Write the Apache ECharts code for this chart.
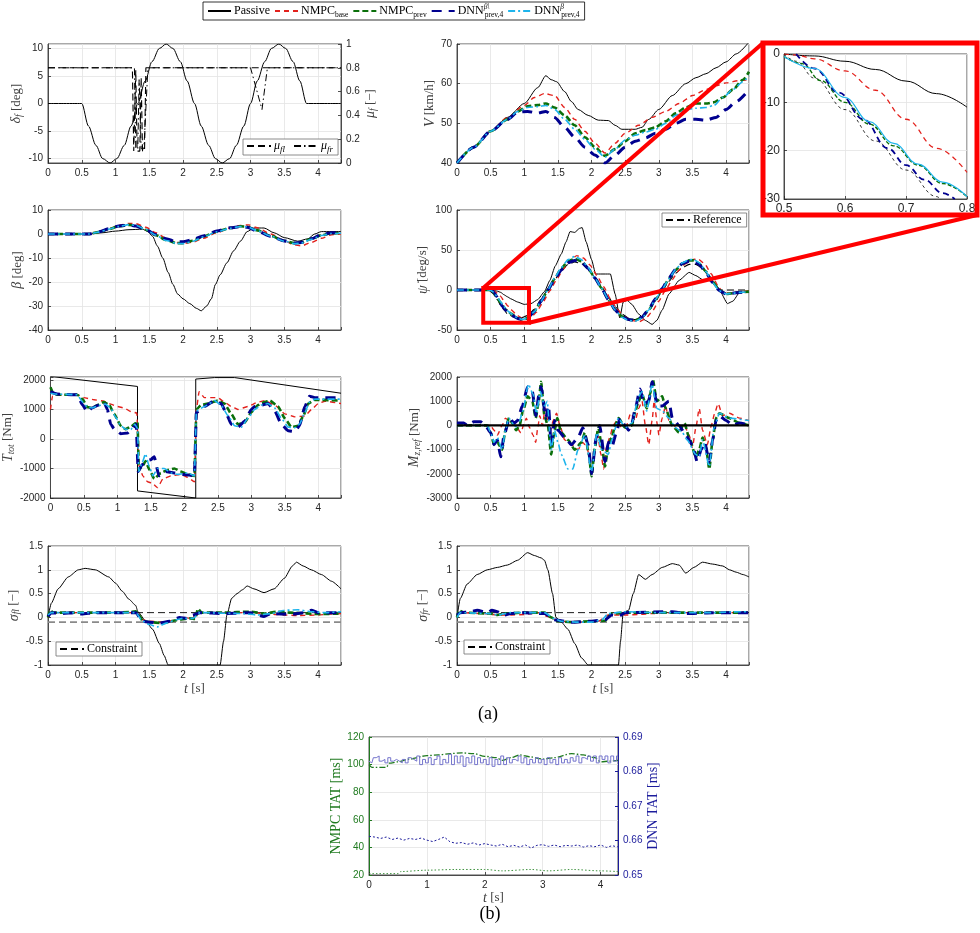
<!DOCTYPE html>
<html>
<head>
<meta charset="utf-8">
<script src="https://cdn.jsdelivr.net/npm/echarts@6/dist/echarts.min.js"></script>
<style>
  html, body { margin: 0; padding: 0; background: #fff; }
  #chart { width: 980px; height: 933px; }
</style>
</head>
<body>
<div id="chart"></div>
<script>
// ---------- data ----------
// steering angle and friction
const deltaF = [[0,0],[0.5,0],[0.6,-4.1],[0.71,-7.6],[0.81,-10],[0.92,-10.8],[1.02,-10],[1.13,-7.6],[1.23,-4.1],[1.33,0],[1.44,4.1],[1.54,7.6],[1.65,10],[1.75,10.8],[1.85,10],[1.96,7.6],[2.06,4.1],[2.17,0],[2.27,-4.1],[2.38,-7.6],[2.48,-10],[2.58,-10.8],[2.69,-10],[2.79,-7.6],[2.9,-4.1],[3.0,0],[3.1,4.1],[3.21,7.6],[3.31,10],[3.42,10.8],[3.52,10],[3.63,7.6],[3.73,4.1],[3.83,0],[4.34,0]];
const muFl = [[0,0.8],[1.25,0.8],[1.27,0.1],[1.3,0.78],[1.32,0.1],[1.36,0.1],[1.38,0.72],[1.4,0.1],[1.43,0.1],[1.45,0.8],[4.34,0.8]];
const muFr = [[0,0.8],[1.28,0.8],[1.3,0.12],[1.33,0.12],[1.35,0.7],[1.38,0.12],[1.42,0.12],[1.48,0.8],[3.0,0.8],[3.17,0.45],[3.25,0.8],[4.34,0.8]];

// speed V [km/h]
const vPassive = [[0,40],[0.25,44],[0.5,48],[0.75,51.5],[1.0,55],[1.2,59],[1.32,62],[1.4,61],[1.48,60.5],[1.6,58],[1.7,55.5],[1.8,53.5],[1.95,52],[2.1,50.8],[2.25,50.7],[2.35,49.5],[2.45,48.5],[2.65,48.5],[2.75,49],[2.85,51],[3.0,53.5],[3.2,57],[3.4,60],[3.55,61.5],[3.7,62.5],[3.85,64],[4.0,65.5],[4.15,67.5],[4.34,70.5]];
const vNmpcBase = [[0,40],[0.25,44],[0.5,48],[0.75,51.5],[1.0,54.5],[1.15,56.5],[1.3,57.5],[1.45,57],[1.6,54],[1.75,51],[1.9,48],[2.05,45],[2.2,42.5],[2.35,45],[2.5,47.5],[2.7,49.5],[2.9,51.5],[3.1,53],[3.3,55],[3.5,57],[3.7,58.5],[3.85,59.5],[4.0,60.2],[4.2,60.8],[4.34,61]];
const vNmpcPrev = [[0,40],[0.25,44],[0.5,48],[0.75,51],[0.9,53],[1.05,54.3],[1.2,54.6],[1.32,55],[1.45,54],[1.6,52],[1.75,49.5],[1.9,46.5],[2.05,44],[2.2,41.8],[2.35,43.5],[2.5,45.5],[2.65,47.5],[2.8,48.3],[2.95,49],[3.1,50.5],[3.25,52.5],[3.4,54],[3.55,55],[3.7,55],[3.82,55.3],[3.95,56.5],[4.1,58.5],[4.25,61],[4.34,63]];
const vDnnA = [[0,40],[0.25,44],[0.5,48],[0.75,51],[0.9,52.8],[1.05,53],[1.2,52.6],[1.32,53],[1.45,51.5],[1.6,49],[1.75,46.5],[1.9,44],[2.05,42],[2.2,40],[2.35,42],[2.5,44],[2.65,45.5],[2.8,46.3],[2.95,47.5],[3.1,48.5],[3.25,50],[3.4,51],[3.55,51],[3.7,50.8],[3.85,51.5],[4.0,53.5],[4.15,55.5],[4.34,58.5]];
const vDnnB = [[0,40],[0.25,44],[0.5,48],[0.75,51],[0.9,53],[1.05,54],[1.2,54.2],[1.32,54.5],[1.45,53.5],[1.6,51],[1.75,48.5],[1.9,46],[2.05,43.5],[2.2,41.5],[2.35,43.5],[2.5,45.8],[2.65,47],[2.8,47.8],[2.95,48.5],[3.1,50],[3.25,52],[3.4,53.5],[3.55,53.8],[3.7,54],[3.82,54.5],[3.95,56.5],[4.1,58.5],[4.25,60.5],[4.34,62]];

// side slip beta [deg]
const betaPassive = [[0,0],[0.6,0],[0.8,0.5],[1.0,1.2],[1.2,1.8],[1.4,2],[1.48,1],[1.55,-1],[1.62,-5],[1.7,-10],[1.78,-16],[1.85,-21],[1.92,-25],[2.0,-27],[2.1,-29],[2.2,-31],[2.27,-32],[2.35,-30],[2.42,-27],[2.48,-21],[2.55,-17],[2.65,-12],[2.75,-7],[2.85,-3],[2.95,1],[3.05,2.5],[3.2,2.5],[3.35,0.5],[3.5,-1.5],[3.7,-3],[3.85,-2],[3.95,0],[4.05,1],[4.34,1]];
const betaNmpcBase = [[0,0],[0.6,0],[0.75,0.8],[0.9,2.2],[1.05,3.6],[1.2,4.4],[1.3,4.3],[1.45,2.8],[1.6,0.5],[1.75,-1.8],[1.9,-3.5],[2.0,-4],[2.15,-3.4],[2.3,-1.8],[2.5,0.5],[2.7,2.5],[2.85,3.6],[2.97,3.8],[3.1,2.6],[3.3,0],[3.5,-2.8],[3.65,-4.5],[3.75,-5],[3.9,-3.5],[4.05,-1.8],[4.2,-0.3],[4.34,0]];
const betaNmpcPrev = [[0,0],[0.6,0],[0.75,0.8],[0.9,2],[1.05,3.2],[1.2,3.8],[1.3,3.5],[1.45,1.8],[1.6,-0.5],[1.75,-2.5],[1.9,-3.8],[2.0,-3.8],[2.15,-2.8],[2.3,-1],[2.5,1],[2.7,2.5],[2.85,3.2],[2.95,3],[3.1,1.5],[3.3,-0.8],[3.5,-2.8],[3.65,-3.8],[3.75,-3.6],[3.9,-2],[4.05,-0.5],[4.2,0.3],[4.34,0.3]];
const betaDnnA = [[0,0],[0.6,0],[0.75,0.9],[0.9,2.2],[1.05,3.3],[1.2,3.7],[1.3,3.3],[1.45,1.8],[1.6,-0.3],[1.75,-2],[1.9,-3.2],[2.0,-3.2],[2.15,-2.3],[2.3,-0.8],[2.5,1.2],[2.7,2.6],[2.85,3.1],[2.95,2.8],[3.1,1.2],[3.3,-1],[3.5,-2.9],[3.65,-3.8],[3.75,-3.5],[3.9,-2],[4.05,-0.3],[4.2,0.5],[4.34,0.5]];
const betaDnnB = [[0,0],[0.6,0],[0.75,0.8],[0.9,2],[1.05,3.2],[1.2,3.9],[1.3,3.6],[1.45,1.9],[1.6,-0.5],[1.75,-2.7],[1.9,-3.9],[2.0,-4],[2.15,-3],[2.3,-1.2],[2.5,0.9],[2.7,2.4],[2.85,3.1],[2.95,3],[3.1,1.4],[3.3,-0.9],[3.5,-3],[3.65,-4],[3.75,-3.8],[3.9,-2.2],[4.05,-0.6],[4.2,0.2],[4.34,0.3]];

// yaw rate [deg/s]
const yawRef = [[0,0],[0.47,0],[0.55,-5],[0.6,-12],[0.65,-19],[0.7,-25],[0.75,-30],[0.85,-34],[0.95,-35],[1.05,-32],[1.15,-24],[1.25,-12],[1.35,1],[1.45,13],[1.55,24],[1.65,32],[1.75,35],[1.85,33],[1.95,26],[2.05,16],[2.15,4],[2.25,-9],[2.35,-21],[2.45,-30],[2.55,-35],[2.65,-37],[2.75,-34],[2.85,-26],[2.95,-14],[3.05,-1],[3.15,11],[3.25,21],[3.35,28],[3.45,32],[3.55,32],[3.65,27],[3.75,17],[3.85,5],[3.92,0],[4.34,0]];
const yawPassive = [[0,0],[0.5,0],[0.55,-0.5],[0.6,-1.5],[0.65,-3],[0.7,-6],[0.75,-8.5],[0.8,-11],[0.9,-15],[1.0,-18],[1.1,-17],[1.2,-12],[1.3,-2],[1.38,12],[1.46,30],[1.55,45],[1.62,60],[1.68,73],[1.75,72],[1.82,77],[1.86,78],[1.92,60],[2.0,38],[2.06,20],[2.28,20],[2.35,-5],[2.42,-35],[2.47,-15],[2.53,-13],[2.6,-18],[2.7,-30],[2.8,-38],[2.9,-43],[2.97,-38],[3.05,-25],[3.15,-5],[3.3,12],[3.45,22],[3.55,18],[3.65,13],[3.8,11],[3.9,0],[4.02,-17],[4.1,-14],[4.2,-3],[4.34,-2]];
const yawNmpcBase = [[0,0],[0.5,0],[0.55,-1],[0.6,-4],[0.65,-8],[0.7,-14],[0.75,-19.5],[0.8,-24.5],[0.9,-32],[1.0,-37],[1.08,-36],[1.18,-28],[1.28,-15],[1.38,-1],[1.48,13],[1.58,26],[1.68,37],[1.78,43],[1.88,40],[1.98,31],[2.08,18],[2.18,4],[2.28,-11],[2.38,-24],[2.48,-33],[2.6,-38],[2.7,-40],[2.8,-36],[2.9,-27],[3.0,-14],[3.1,0],[3.2,13],[3.3,25],[3.4,33],[3.5,38],[3.58,39],[3.68,33],[3.78,20],[3.88,5],[3.95,-3],[4.05,-4],[4.2,-2],[4.34,-1]];
const yawNmpcPrev = [[0,0],[0.47,0],[0.5,-0.5],[0.53,-2],[0.56,-6],[0.6,-10],[0.64,-15],[0.68,-20],[0.72,-24],[0.76,-27],[0.8,-29.5],[0.9,-35],[0.97,-37],[1.05,-35],[1.15,-27],[1.25,-14],[1.35,0],[1.45,14],[1.55,27],[1.65,36],[1.75,39],[1.85,36],[1.95,27],[2.05,15],[2.15,2],[2.25,-12],[2.35,-25],[2.45,-33],[2.55,-37],[2.65,-38],[2.75,-34],[2.85,-25],[2.95,-12],[3.05,1],[3.15,14],[3.25,25],[3.35,33],[3.45,37],[3.52,37],[3.6,33],[3.7,23],[3.8,10],[3.9,0],[4.0,-5],[4.1,-4],[4.2,-3],[4.34,-2]];
const yawDnnA = [[0,0],[0.52,0],[0.55,-3],[0.59,-8],[0.63,-14],[0.67,-20],[0.72,-25],[0.76,-28.5],[0.8,-31],[0.9,-35.5],[0.97,-37],[1.05,-35],[1.15,-27],[1.25,-14],[1.35,0],[1.45,13],[1.55,25],[1.65,34],[1.75,37],[1.85,35],[1.95,27],[2.05,15],[2.15,2],[2.25,-12],[2.35,-25],[2.45,-33],[2.55,-37],[2.65,-38],[2.75,-34],[2.85,-24],[2.95,-11],[3.05,2],[3.15,15],[3.25,26],[3.35,33],[3.45,36],[3.52,36],[3.6,32],[3.7,22],[3.8,9],[3.9,-1],[4.0,-5],[4.1,-4],[4.2,-3],[4.34,-2]];
const yawDnnB = [[0,0],[0.47,0],[0.5,-0.5],[0.55,-3],[0.6,-9],[0.64,-14],[0.68,-18],[0.72,-23],[0.76,-26.5],[0.8,-29.5],[0.9,-35],[0.97,-37],[1.05,-35],[1.15,-27],[1.25,-14],[1.35,0],[1.45,15],[1.55,28],[1.65,38],[1.75,42],[1.85,38],[1.95,28],[2.05,15],[2.15,2],[2.25,-12],[2.35,-25],[2.45,-34],[2.55,-38],[2.65,-39],[2.75,-35],[2.85,-25],[2.95,-12],[3.05,1],[3.15,14],[3.25,26],[3.35,34],[3.45,38],[3.52,38],[3.6,34],[3.7,23],[3.8,9],[3.9,-1],[4.0,-5],[4.1,-4],[4.2,-3],[4.34,-2]];

// zoomed window of the yaw rate (inset)
const zoomPassive = [[0.5,0],[0.55,-0.4],[0.6,-1.5],[0.65,-3.2],[0.7,-5.6],[0.75,-8.2],[0.8,-11]];
const zoomRef = [[0.5,0],[0.52,-1.5],[0.55,-5],[0.6,-11.5],[0.65,-18],[0.7,-24],[0.75,-29.5],[0.76,-30.5]];
const zoomNmpcBase = [[0.5,0],[0.52,-0.2],[0.55,-1],[0.6,-3.5],[0.65,-7.5],[0.7,-13.5],[0.75,-19.5],[0.8,-24.5]];
const zoomNmpcPrev = [[0.5,-0.5],[0.53,-2],[0.56,-5.5],[0.6,-10],[0.64,-14.5],[0.68,-19],[0.72,-23],[0.76,-26.8],[0.8,-29.5]];
const zoomDnnA = [[0.52,0],[0.55,-3],[0.59,-8],[0.63,-13.5],[0.67,-19.5],[0.7,-23],[0.73,-26],[0.76,-28.8],[0.78,-30]];
const zoomDnnB = [[0.5,-0.5],[0.55,-3],[0.6,-9],[0.64,-14],[0.68,-18.5],[0.72,-22.8],[0.76,-26.5],[0.8,-29.5]];
const zoomWindow = { t: [0.39, 1.07], v: [-41, 2.5] };

// total torque T_tot [Nm]
const tPassive = [[0,2120],[1.3,1780],[1.3,-1760],[2.17,-2000],[2.17,2030],[2.45,2080],[2.75,2080],[4.34,1550]];
const tNmpcBase = [[0,1000],[0.03,1450],[0.1,1500],[0.4,1500],[0.5,1400],[0.65,1330],[0.8,1280],[0.9,1180],[1.0,1100],[1.1,1050],[1.2,930],[1.29,880],[1.32,-900],[1.38,-1250],[1.45,-1450],[1.52,-1500],[1.6,-1650],[1.68,-1350],[1.8,-1250],[1.95,-1200],[2.05,-1300],[2.15,-1450],[2.18,1000],[2.22,1600],[2.3,1400],[2.5,1400],[2.6,1250],[2.7,1100],[2.8,1000],[2.95,1100],[3.1,1250],[3.2,1300],[3.35,1150],[3.5,850],[3.65,750],[3.8,780],[3.9,1000],[4.0,1200],[4.1,1280],[4.34,1200]];
const tNmpcPrev = [[0,1750],[0.04,1550],[0.1,1500],[0.4,1500],[0.48,1350],[0.55,1080],[0.62,1050],[0.7,1150],[0.8,1250],[0.88,1150],[0.95,850],[1.05,450],[1.12,330],[1.2,420],[1.28,550],[1.3,600],[1.32,-1050],[1.38,-900],[1.42,-750],[1.48,-1050],[1.55,-1350],[1.65,-1150],[1.75,-1050],[1.85,-1000],[1.95,-1100],[2.05,-1200],[2.15,-1250],[2.18,1000],[2.25,1150],[2.35,1200],[2.5,1300],[2.6,1200],[2.7,850],[2.8,500],[2.9,550],[3.0,900],[3.1,1150],[3.2,1250],[3.28,1300],[3.4,1100],[3.5,700],[3.6,400],[3.7,450],[3.78,800],[3.85,1200],[3.95,1330],[4.34,1300]];
const tDnnA = [[0,1600],[0.1,1520],[0.4,1500],[0.48,1150],[0.55,920],[0.62,1050],[0.72,1150],[0.8,1250],[0.85,1000],[0.9,500],[0.95,350],[1.05,180],[1.15,200],[1.22,350],[1.28,500],[1.31,-1100],[1.36,-900],[1.42,-750],[1.5,-700],[1.55,-600],[1.62,-1250],[1.72,-1100],[1.85,-1150],[2.0,-1200],[2.15,-1250],[2.18,900],[2.3,1100],[2.45,1300],[2.55,1200],[2.62,900],[2.7,500],[2.8,400],[2.9,600],[3.0,1000],[3.05,1100],[3.15,1150],[3.25,1200],[3.35,950],[3.45,500],[3.55,280],[3.65,250],[3.72,450],[3.8,1100],[3.87,1450],[3.95,1400],[4.34,1400]];
const tDnnB = [[0,1550],[0.1,1520],[0.4,1500],[0.48,1250],[0.55,1080],[0.62,1050],[0.72,1130],[0.82,1180],[0.9,1050],[0.97,750],[1.05,450],[1.12,330],[1.2,320],[1.26,500],[1.3,350],[1.32,-1100],[1.37,-800],[1.42,-500],[1.47,-900],[1.53,-1250],[1.6,-1000],[1.7,-1000],[1.8,-1150],[1.9,-1200],[2.05,-1150],[2.15,-1250],[2.18,950],[2.3,1100],[2.45,1300],[2.55,1150],[2.65,800],[2.75,450],[2.85,400],[2.95,700],[3.05,1000],[3.15,1150],[3.25,1200],[3.35,1050],[3.45,700],[3.55,400],[3.65,380],[3.72,500],[3.8,900],[3.87,1250],[3.95,1350],[4.34,1350]];

// yaw moment reference M_z,ref [Nm]
const mPassive = [[0,0],[4.34,0]];
const mNmpcBase = [[0,0],[0.5,0],[0.55,-200],[0.6,-400],[0.67,0],[0.72,300],[0.8,100],[0.87,0],[0.95,-300],[1.0,100],[1.03,300],[1.08,-100],[1.13,-400],[1.17,-700],[1.2,-100],[1.23,400],[1.27,0],[1.31,700],[1.34,300],[1.38,-300],[1.43,200],[1.48,500],[1.53,0],[1.6,-600],[1.7,-800],[1.8,-1000],[1.87,-700],[1.93,-900],[2.0,-1800],[2.05,-900],[2.09,-400],[2.14,-1200],[2.18,-1800],[2.22,-900],[2.27,-500],[2.32,0],[2.38,200],[2.45,-100],[2.52,0],[2.58,500],[2.65,200],[2.7,700],[2.75,1000],[2.8,0],[2.85,-800],[2.9,200],[2.93,1000],[2.98,0],[3.0,-400],[3.05,300],[3.1,800],[3.15,200],[3.22,0],[3.3,-200],[3.38,0],[3.45,-400],[3.5,-900],[3.55,-100],[3.6,700],[3.65,-200],[3.72,-800],[3.78,0],[3.83,500],[3.88,900],[3.95,400],[4.05,500],[4.2,300],[4.34,200]];
const mNmpcPrev = [[0,0],[0.45,0],[0.5,-300],[0.55,-800],[0.6,-700],[0.67,-1000],[0.72,-200],[0.77,300],[0.82,100],[0.88,-200],[0.93,0],[0.98,600],[1.05,1200],[1.12,1000],[1.17,300],[1.21,900],[1.25,1800],[1.3,400],[1.35,0],[1.4,-1200],[1.45,-200],[1.49,300],[1.55,-300],[1.65,-600],[1.75,-1000],[1.85,-700],[1.9,-300],[1.96,-1200],[2.0,-2100],[2.05,-900],[2.1,-100],[2.16,-1000],[2.2,-1700],[2.25,-800],[2.3,-500],[2.35,0],[2.4,300],[2.5,-100],[2.6,0],[2.65,600],[2.7,1000],[2.75,1300],[2.82,700],[2.87,1300],[2.91,1900],[2.97,1000],[3.05,1200],[3.1,700],[3.2,0],[3.3,-300],[3.38,100],[3.45,-500],[3.55,-1300],[3.6,-1000],[3.65,-500],[3.7,-900],[3.75,-1800],[3.8,-600],[3.85,300],[3.9,500],[4.05,300],[4.2,100],[4.34,0]];
const mDnnA = [[0,100],[0.1,100],[0.15,0],[0.25,150],[0.35,150],[0.42,0],[0.5,-300],[0.55,-800],[0.6,-600],[0.65,-1300],[0.7,-400],[0.78,300],[0.85,100],[0.9,200],[0.97,800],[1.05,1600],[1.12,1400],[1.17,400],[1.22,1300],[1.25,1600],[1.32,300],[1.36,800],[1.4,-800],[1.45,200],[1.5,-200],[1.6,-500],[1.7,-800],[1.8,-500],[1.87,-100],[1.95,-800],[2.0,-2000],[2.07,-500],[2.12,0],[2.2,-1500],[2.25,-700],[2.3,-900],[2.38,-200],[2.42,300],[2.5,0],[2.55,-200],[2.6,100],[2.65,700],[2.72,1500],[2.78,900],[2.85,1000],[2.9,1800],[2.98,800],[3.05,800],[3.15,1000],[3.2,300],[3.3,0],[3.4,-400],[3.5,-800],[3.57,-1500],[3.63,-1000],[3.68,-700],[3.75,-1500],[3.8,-600],[3.85,200],[3.9,400],[4.0,200],[4.1,0],[4.2,100],[4.34,0]];
const mDnnB = [[0,0],[0.45,0],[0.5,-300],[0.55,-700],[0.6,-500],[0.67,-1000],[0.72,-200],[0.77,300],[0.85,0],[0.9,-100],[0.98,600],[1.06,1700],[1.13,1300],[1.18,500],[1.24,1400],[1.3,800],[1.34,1000],[1.4,-1000],[1.45,-200],[1.5,-700],[1.55,-1200],[1.65,-1800],[1.72,-1800],[1.8,-1000],[1.9,-400],[2.0,-1900],[2.08,-300],[2.15,-1000],[2.25,-1200],[2.3,-600],[2.4,300],[2.5,-100],[2.6,100],[2.7,1200],[2.75,1400],[2.82,600],[2.9,1700],[2.97,700],[3.05,600],[3.15,300],[3.25,-100],[3.35,-300],[3.42,-600],[3.55,-1200],[3.6,-1300],[3.65,-600],[3.75,-1700],[3.82,-100],[3.9,500],[4.05,300],[4.34,200]];

// slip sigma_fl / sigma_fr [-]
const constraintUpper = [[0,0.1],[4.34,0.1]];
const constraintLower = [[0,-0.1],[4.34,-0.1]];
const sflPassive = [[0,0],[0.05,0.3],[0.15,0.6],[0.3,0.85],[0.45,1.0],[0.55,1.03],[0.7,1.0],[0.9,0.85],[1.0,0.72],[1.1,0.55],[1.2,0.38],[1.3,0.25],[1.33,0.12],[1.45,-0.08],[1.55,-0.25],[1.65,-0.55],[1.72,-0.8],[1.78,-1],[2.55,-1],[2.6,-0.5],[2.65,0.05],[2.72,0.4],[2.8,0.5],[2.88,0.58],[2.95,0.66],[3.05,0.6],[3.2,0.52],[3.35,0.6],[3.5,0.82],[3.62,1.08],[3.68,1.16],[3.78,1.08],[3.9,1.0],[4.05,0.9],[4.2,0.76],[4.34,0.6]];
const sflNmpcBase = [[0,0],[0.03,0.1],[0.3,0.1],[0.8,0.1],[1.3,0.1],[1.35,0.05],[1.4,-0.05],[1.5,-0.08],[1.7,-0.1],[1.9,-0.05],[2.0,0],[2.1,-0.02],[2.2,0.05],[2.3,0.1],[3.0,0.1],[3.3,0.07],[3.5,0.05],[3.7,0.04],[4.0,0.05],[4.2,0.07],[4.34,0.08]];
const sflNmpcPrev = [[0,0],[0.03,0.15],[0.08,0.1],[0.3,0.1],[0.6,0.1],[1.0,0.1],[1.2,0.11],[1.3,0.13],[1.35,0.05],[1.4,-0.07],[1.5,-0.1],[1.7,-0.12],[1.9,-0.06],[2.1,-0.02],[2.18,-0.03],[2.22,0.18],[2.28,0.1],[2.6,0.1],[3.0,0.12],[3.2,0.08],[3.4,0.12],[3.6,0.1],[4.0,0.07],[4.34,0.08]];
const sflDnnA = [[0,0.02],[0.05,0.1],[0.2,0.08],[0.4,0.1],[0.5,0.07],[0.7,0.1],[1.0,0.1],[1.3,0.1],[1.4,-0.08],[1.5,-0.1],[1.65,-0.12],[1.8,-0.08],[1.95,0],[2.05,-0.02],[2.15,0.05],[2.25,0.1],[2.6,0.08],[3.0,0.1],[3.2,0.02],[3.3,0.08],[3.6,0.06],[3.8,0.1],[3.9,0.15],[4.0,0.1],[4.34,0.1]];
const sflDnnB = [[0,0.05],[0.05,0.1],[1.3,0.1],[1.4,-0.08],[1.5,-0.15],[1.62,-0.2],[1.75,-0.12],[1.9,-0.05],[2.0,-0.02],[2.15,-0.02],[2.25,0.1],[2.9,0.08],[3.1,0.05],[3.3,0.08],[3.5,0.15],[3.7,0.16],[3.9,0.12],[4.1,0.1],[4.34,0.12]];
const sfrPassive = [[0,0],[0.05,0.4],[0.15,0.7],[0.3,0.9],[0.45,1.0],[0.6,1.05],[0.75,1.1],[0.9,1.2],[1.05,1.36],[1.15,1.3],[1.25,1.25],[1.3,1.2],[1.35,1.0],[1.42,0.5],[1.47,0],[1.55,-0.1],[1.65,-0.25],[1.75,-0.55],[1.85,-0.85],[1.95,-1],[2.4,-1],[2.43,-0.5],[2.47,0.1],[2.55,0.15],[2.62,0.5],[2.7,0.9],[2.8,0.8],[2.9,0.9],[3.05,1.05],[3.2,1.13],[3.3,1.1],[3.4,0.93],[3.52,1.05],[3.65,1.16],[3.8,1.12],[3.95,1.08],[4.05,1.0],[4.15,0.95],[4.25,0.9],[4.34,0.85]];
const sfrNmpcBase = [[0,0.05],[0.05,0.1],[0.4,0.08],[0.6,0.05],[0.8,0.05],[1.0,0.06],[1.2,0.1],[1.35,0.02],[1.5,-0.08],[1.8,-0.1],[2.1,-0.08],[2.25,0.05],[2.5,0.05],[2.7,0.06],[2.9,0.08],[3.2,0.1],[4.34,0.1]];
const sfrNmpcPrev = [[0,0],[0.03,0.15],[0.1,0.1],[0.5,0.08],[0.6,0.05],[0.7,0.08],[1.0,0.1],[1.3,0.1],[1.4,0],[1.5,-0.08],[1.7,-0.1],[2.0,-0.08],[2.2,-0.07],[2.3,0.08],[2.5,0.1],[3.0,0.1],[4.34,0.1]];
const sfrDnnA = [[0,0.05],[0.05,0.1],[0.2,0.12],[0.3,0.15],[0.45,0.1],[0.52,0.15],[0.6,0.12],[0.7,0.05],[0.8,0.08],[1.0,0.1],[1.3,0.08],[1.45,-0.05],[1.6,-0.08],[1.7,-0.1],[2.0,-0.08],[2.2,-0.05],[2.3,0.05],[2.4,0.02],[2.5,0.1],[3.2,0.12],[3.4,0.08],[3.8,0.1],[4.34,0.1]];
const sfrDnnB = [[0,0],[0.05,0.1],[0.5,0.08],[0.6,0.05],[0.8,0.1],[1.3,0.1],[1.45,-0.03],[1.55,-0.08],[1.8,-0.1],[2.0,-0.1],[2.15,-0.05],[2.25,0.08],[2.5,0.12],[3.0,0.1],[3.8,0.1],[4.2,0.12],[4.34,0.12]];

// turnaround times (b)
const nmpcTatHigh = [[0,100],[0.05,98],[0.3,98],[0.35,101],[0.5,102],[0.7,104],[1.0,106.5],[1.2,107],[1.4,108],[1.6,108.5],[1.8,108],[2.0,106],[2.2,105],[2.3,103],[2.45,105],[2.6,107],[2.8,105.5],[3.0,104],[3.2,105],[3.5,108],[3.7,107],[3.9,105],[4.0,102],[4.15,102.5],[4.3,103]];
const nmpcTatLow = [[0,21],[0.5,21],[0.55,22.5],[1.0,23.5],[1.5,24],[2.0,24],[2.3,23],[2.8,24],[3.1,23],[3.5,24],[4.0,23],[4.3,22.5]];
const dnnTatHigh = [[0,0.683],[0.05,0.6825],[0.1,0.684],[0.15,0.6845],[0.2,0.683],[0.25,0.6835],[0.3,0.6825],[0.35,0.684],[0.4,0.683],[0.45,0.6835],[0.5,0.683],[0.55,0.6825],[0.6,0.6835],[0.65,0.6825],[0.7,0.684],[0.75,0.6835],[0.8,0.683],[0.85,0.6845],[0.9,0.682],[0.95,0.6835],[1.0,0.6825],[1.05,0.684],[1.1,0.682],[1.15,0.6835],[1.2,0.6845],[1.25,0.682],[1.3,0.6835],[1.35,0.6825],[1.4,0.685],[1.45,0.682],[1.5,0.6845],[1.55,0.6825],[1.6,0.6845],[1.65,0.6815],[1.7,0.684],[1.75,0.6825],[1.8,0.6845],[1.85,0.682],[1.9,0.684],[1.95,0.6825],[2.0,0.6835],[2.05,0.682],[2.1,0.684],[2.15,0.6815],[2.2,0.6835],[2.25,0.682],[2.3,0.6845],[2.35,0.682],[2.4,0.684],[2.45,0.6825],[2.5,0.6835],[2.55,0.683],[2.6,0.6845],[2.65,0.6825],[2.7,0.684],[2.75,0.682],[2.8,0.6835],[2.85,0.6825],[2.9,0.684],[2.95,0.6825],[3.0,0.6835],[3.05,0.682],[3.1,0.684],[3.15,0.6825],[3.2,0.6835],[3.25,0.682],[3.3,0.684],[3.35,0.6825],[3.4,0.6835],[3.45,0.6825],[3.5,0.684],[3.55,0.683],[3.6,0.6845],[3.65,0.6825],[3.7,0.684],[3.75,0.6835],[3.8,0.6845],[3.85,0.683],[3.9,0.6845],[3.95,0.6825],[4.0,0.6845],[4.05,0.6835],[4.1,0.6845],[4.15,0.6825],[4.2,0.6845],[4.25,0.683],[4.3,0.6845]];
const dnnTatLow = [[0,0.6612],[0.1,0.661],[0.2,0.6606],[0.3,0.661],[0.4,0.6603],[0.5,0.6607],[0.6,0.6601],[0.7,0.6606],[0.8,0.6603],[0.9,0.6607],[1.0,0.6601],[1.1,0.6597],[1.2,0.6603],[1.3,0.661],[1.4,0.6596],[1.5,0.6592],[1.6,0.6594],[1.7,0.6589],[1.8,0.6593],[1.9,0.6587],[2.0,0.6591],[2.1,0.6587],[2.2,0.6584],[2.3,0.6589],[2.4,0.6582],[2.5,0.6586],[2.6,0.6581],[2.7,0.6587],[2.8,0.6578],[2.9,0.6586],[3.0,0.6588],[3.1,0.6583],[3.2,0.6587],[3.3,0.6582],[3.4,0.6586],[3.5,0.6584],[3.6,0.6587],[3.7,0.6581],[3.8,0.6585],[3.9,0.6582],[4.0,0.6587],[4.1,0.658],[4.2,0.6585],[4.3,0.6581]];

// ---------- styling ----------
const SERIF = 'Liberation Serif, DejaVu Serif, serif';
const SANS = 'Liberation Sans, Arial, sans-serif';
const AX = '#262626';
const GRIDC = '#e3e3e3';
const NAMEC = '#404040';
const TAT_GREEN = '#1f7a1f';
const TAT_BLUE = '#1c1c9c';

const STY = {
  Passive: { color: '#000000', width: 1, type: 'solid' },
  NMPCbase: { color: '#e3211c', width: 1.4, type: [5, 4] },
  NMPCprev: { color: '#0b700b', width: 2.6, type: [6, 3] },
  DNNa: { color: '#00008f', width: 3, type: [10, 7] },
  DNNb: { color: '#1eb4ec', width: 1.6, type: [7, 3, 2, 3] },
};

const nameRich = {
  i: { fontFamily: SERIF, fontStyle: 'italic', fontSize: 14, lineHeight: 16, color: NAMEC },
  s: { fontFamily: SERIF, fontStyle: 'italic', fontSize: 9.5, lineHeight: 8, verticalAlign: 'bottom', color: NAMEC },
  n: { fontFamily: SERIF, fontSize: 13, lineHeight: 16, color: NAMEC },
};
const legRich = {
  n: { fontFamily: SERIF, fontSize: 12, lineHeight: 16, color: '#000' },
  i: { fontFamily: SERIF, fontStyle: 'italic', fontSize: 12, lineHeight: 16, color: '#000' },
  sub: { fontFamily: SERIF, fontSize: 7.5, lineHeight: 7, verticalAlign: 'bottom', color: '#000' },
  isub: { fontFamily: SERIF, fontStyle: 'italic', fontSize: 9, lineHeight: 8, verticalAlign: 'bottom', color: '#000' },
  sup: { fontFamily: SERIF, fontStyle: 'italic', fontSize: 7.5, lineHeight: 7, verticalAlign: 'top', color: '#000', width: 1 },
};
const legendText = {
  Passive: '{n|Passive}',
  NMPCbase: '{n|NMPC}{sub|base}',
  NMPCprev: '{n|NMPC}{sub|prev}',
  DNNa: '{n|DNN}{sup|β\\}{sub|prev,4}',
  DNNb: '{n|DNN}{sup|β}{sub|prev,4}',
  Reference: '{n|Reference}',
  mufl: '{i|μ}{isub|fl}',
  mufr: '{i|μ}{isub|fr}',
  Constraint: '{n|Constraint}',
};

// ---------- axes ----------
function xAxisFor(gi, opt) {
  return Object.assign({
    gridIndex: gi, type: 'value', min: 0, max: 4.34, interval: 0.5,
    axisLine: { show: true, onZero: false, lineStyle: { color: AX, width: 0.8 } },
    axisTick: { show: true, inside: true, length: 3, lineStyle: { color: AX, width: 0.8 } },
    axisLabel: { color: AX, fontFamily: SANS, fontSize: 10, margin: 5,
      formatter: v => (v > 4.01 ? '' : String(v)) },
    splitLine: { show: true, lineStyle: { color: GRIDC, width: 0.8 } },
  }, opt || {});
}
function yAxisFor(gi, min, max, interval, name, gap, opt) {
  return Object.assign({
    gridIndex: gi, type: 'value', min: min, max: max, interval: interval,
    name: name, nameLocation: 'middle', nameGap: gap, nameRotate: 90,
    nameTextStyle: { fontFamily: SERIF, fontSize: 13, color: NAMEC, rich: nameRich },
    axisLine: { show: true, onZero: false, lineStyle: { color: AX, width: 0.8 } },
    axisTick: { show: true, inside: true, length: 3, lineStyle: { color: AX, width: 0.8 } },
    axisLabel: { color: AX, fontFamily: SANS, fontSize: 10, margin: 5, formatter: v => String(v) },
    splitLine: { show: true, lineStyle: { color: GRIDC, width: 0.8 } },
  }, opt || {});
}
const tName = { name: '{i|t}{n| [s]}', nameLocation: 'middle', nameGap: 16,
  nameTextStyle: { fontFamily: SERIF, fontSize: 13, color: NAMEC, rich: nameRich } };

function line(name, data, xi, yi, sty, extra) {
  return Object.assign({
    type: 'line', name: name, data: data, xAxisIndex: xi, yAxisIndex: yi,
    symbol: 'none', smooth: 0.25, smoothMonotone: 'x', animation: false,
    lineStyle: { color: sty.color, width: sty.width, type: sty.type },
    itemStyle: { color: sty.color },
  }, extra || {});
}
function five(sets, xi, yi, extra) {
  const keys = ['Passive', 'NMPCbase', 'NMPCprev', 'DNNa', 'DNNb'];
  return keys.map((k, i) => line(k, sets[i], xi, yi, STY[k], extra));
}
function thin(k, f) {
  const s = STY[k];
  return { color: s.color, width: s.width * f, type: s.type };
}

const grids = [
  { left: 48, top: 44, width: 293, height: 119 },
  { left: 457, top: 44, width: 292, height: 119 },
  { left: 48, top: 210, width: 293, height: 120 },
  { left: 457, top: 210, width: 292, height: 120 },
  { left: 48, top: 377, width: 293, height: 121 },
  { left: 457, top: 377, width: 292, height: 121 },
  { left: 48, top: 546, width: 293, height: 119 },
  { left: 457, top: 546, width: 292, height: 119 },
  { left: 784, top: 54, width: 183, height: 145 },
  { left: 369, top: 737, width: 249, height: 138 },
].map(g => Object.assign({ show: true, borderColor: AX, borderWidth: 0.8, backgroundColor: '#fff', containLabel: false }, g));

const xAxes = [
  xAxisFor(0), xAxisFor(1), xAxisFor(2), xAxisFor(3), xAxisFor(4), xAxisFor(5),
  xAxisFor(6, tName), xAxisFor(7, tName),
  xAxisFor(8, { min: 0.5, max: 0.8, interval: 0.1,
    axisLabel: { color: AX, fontFamily: SANS, fontSize: 12, margin: 4 } }),
  xAxisFor(9, Object.assign({ max: 4.3, interval: 1 }, tName, { nameGap: 15 })),
];
const yAxes = [
  yAxisFor(0, -10.8, 10.8, undefined, '{i|δ}{s|f}{n| [deg]}', 18, { splitNumber: 4 }),
  yAxisFor(0, 0, 1, 0.2, '{i|μ}{s|f}{n| [−]}', 20, { position: 'right', splitLine: { show: false } }),
  yAxisFor(1, 40, 70, 10, '{i|V}{n| [km/h]}', 17),
  yAxisFor(2, -40, 10, 10, '{i|β}{n| [deg]}', 19),
  yAxisFor(3, -50, 100, 50, '{i|ψ̇}{n| [deg/s]}', 26),
  yAxisFor(4, -2000, 2100, 1000, '{i|T}{s|tot}{n| [Nm]}', 31,
    { axisLabel: { color: AX, fontFamily: SANS, fontSize: 10, margin: 5, formatter: v => (v > 2050 ? '' : String(v)) } }),
  yAxisFor(5, -3000, 2000, 1000, '{i|M}{s|z,ref}{n| [Nm]}', 29),
  yAxisFor(6, -1, 1.5, 0.5, '{i|σ}{s|fl}{n| [−]}', 20),
  yAxisFor(7, -1, 1.5, 0.5, '{i|σ}{s|fr}{n| [−]}', 26),
  yAxisFor(8, -30, 0, 10, '', 0, { axisLabel: { color: AX, fontFamily: SANS, fontSize: 12, margin: 4 } }),
  yAxisFor(9, 20, 120, 20, 'NMPC TAT [ms]', 21, {
    nameTextStyle: { fontFamily: SERIF, fontSize: 14, color: TAT_GREEN },
    axisLine: { show: true, onZero: false, lineStyle: { color: TAT_GREEN, width: 1 } },
    axisTick: { show: true, inside: true, length: 3, lineStyle: { color: TAT_GREEN } },
    axisLabel: { color: TAT_GREEN, fontFamily: SANS, fontSize: 10, margin: 5 } }),
  yAxisFor(9, 0.65, 0.69, 0.01, 'DNN TAT [ms]', 21, {
    position: 'right', splitLine: { show: false },
    nameTextStyle: { fontFamily: SERIF, fontSize: 14, color: TAT_BLUE },
    axisLine: { show: true, onZero: false, lineStyle: { color: TAT_BLUE, width: 1 } },
    axisTick: { show: true, inside: true, length: 3, lineStyle: { color: TAT_BLUE } },
    axisLabel: { color: TAT_BLUE, fontFamily: SANS, fontSize: 10, margin: 5 } }),
];

// ---------- series ----------
const series = [].concat(
  [
    line('deltaF', deltaF, 0, 0, STY.Passive, { smooth: 0.3 }),
    line('mufl', muFl, 0, 1, { color: '#000', width: 1.1, type: [7, 4] }, { smooth: false }),
    line('mufr', muFr, 0, 1, { color: '#000', width: 1, type: [7, 3, 1.5, 3] }, { smooth: false }),
  ],
  five([vPassive, vNmpcBase, vNmpcPrev, vDnnA, vDnnB], 1, 2),
  five([betaPassive, betaNmpcBase, betaNmpcPrev, betaDnnA, betaDnnB], 2, 3),
  [line('Reference', yawRef, 3, 4, { color: '#000', width: 1.1, type: [7, 4] })],
  five([yawPassive, yawNmpcBase, yawNmpcPrev, yawDnnA, yawDnnB], 3, 4, { smooth: 0.15 }),
  [
    line('Passive', tPassive, 4, 5, STY.Passive, { smooth: false }),
    line('NMPCbase', tNmpcBase, 4, 5, STY.NMPCbase, { smooth: 0.15 }),
    line('NMPCprev', tNmpcPrev, 4, 5, STY.NMPCprev, { smooth: 0.15 }),
    line('DNNa', tDnnA, 4, 5, STY.DNNa, { smooth: 0.15 }),
    line('DNNb', tDnnB, 4, 5, STY.DNNb, { smooth: 0.15 }),
  ],
  [
    line('NMPCbase', mNmpcBase, 5, 6, STY.NMPCbase, { smooth: 0.2 }),
    line('NMPCprev', mNmpcPrev, 5, 6, STY.NMPCprev, { smooth: 0.2 }),
    line('DNNa', mDnnA, 5, 6, STY.DNNa, { smooth: 0.2 }),
    line('DNNb', mDnnB, 5, 6, STY.DNNb, { smooth: 0.2 }),
    line('Passive', mPassive, 5, 6, { color: '#000', width: 2.4, type: 'solid' }, { smooth: false, z: 5 }),
  ],
  [
    line('Constraint', constraintUpper, 6, 7, { color: '#000', width: 0.9, type: [7, 4] }, { smooth: false }),
    line('lowerFl', constraintLower, 6, 7, { color: '#8a8a8a', width: 1.6, type: [7, 4] }, { smooth: false }),
  ],
  five([sflPassive, sflNmpcBase, sflNmpcPrev, sflDnnA, sflDnnB], 6, 7, { smooth: 0.2 }),
  [
    line('Constraint', constraintUpper, 7, 8, { color: '#000', width: 0.9, type: [7, 4] }, { smooth: false }),
    line('lowerFr', constraintLower, 7, 8, { color: '#8a8a8a', width: 1.6, type: [7, 4] }, { smooth: false }),
  ],
  five([sfrPassive, sfrNmpcBase, sfrNmpcPrev, sfrDnnA, sfrDnnB], 7, 8, { smooth: 0.2 }),
  [
    line('zPassive', zoomPassive, 8, 9, thin('Passive', 1), { smooth: 0.4 }),
    line('zRef', zoomRef, 8, 9, { color: '#000', width: 0.8, type: [3, 3] }, { smooth: 0.4 }),
    line('zBase', zoomNmpcBase, 8, 9, thin('NMPCbase', 0.9), { smooth: 0.4 }),
    line('zPrev', zoomNmpcPrev, 8, 9, { color: STY.NMPCprev.color, width: 1.4, type: [4, 2] }, { smooth: 0.4 }),
    line('zDnnA', zoomDnnA, 8, 9, { color: STY.DNNa.color, width: 1.8, type: [6, 4] }, { smooth: 0.4 }),
    line('zDnnB', zoomDnnB, 8, 9, { color: STY.DNNb.color, width: 1.2, type: 'solid' }, { smooth: 0.4 }),
  ],
  [
    line('nmpcHigh', nmpcTatHigh, 9, 10, { color: TAT_GREEN, width: 1.3, type: [6, 2, 1.5, 2] }, { smooth: 0.3 }),
    line('nmpcLow', nmpcTatLow, 9, 10, { color: '#3f923f', width: 1, type: [1.5, 2] }, { smooth: 0.3 }),
    line('dnnHigh', dnnTatHigh, 9, 11, { color: '#7474cc', width: 1, type: 'solid' }, { smooth: false, step: 'middle' }),
    line('dnnLow', dnnTatLow, 9, 11, { color: TAT_BLUE, width: 1, type: [2, 2] }, { smooth: false }),
  ]
);

// ---------- legends ----------
function legendAt(data, pos, extra) {
  return Object.assign({
    data: data, orient: 'horizontal', selectedMode: false,
    itemWidth: 24, itemHeight: 10, itemGap: 8,
    itemStyle: { opacity: 0 },
    backgroundColor: '#fff', borderColor: '#6e6e6e', borderWidth: 0.8, borderRadius: 0,
    padding: [1, 5, 1, 3],
    textStyle: { fontFamily: SERIF, fontSize: 12, color: '#000', rich: legRich, padding: [0, 0, 0, -2] },
    formatter: n => legendText[n] || n,
  }, pos, extra || {});
}
const legends = [
  legendAt(['Passive', 'NMPCbase', 'NMPCprev', 'DNNa', 'DNNb'], { left: 203, top: 2 },
    { borderColor: '#000', itemGap: 4, itemWidth: 23, padding: [1, 5, 1, 4] }),
  legendAt(['mufl', 'mufr'], { left: 243, top: 139 }, { itemWidth: 24 }),
  legendAt(['Reference'], { left: 662, top: 213 }, { itemWidth: 24 }),
  legendAt(['Constraint'], { left: 56, top: 642 }),
  legendAt(['Constraint'], { left: 464, top: 640 }),
];

const chart = echarts.init(document.getElementById('chart'), null, { renderer: 'canvas' });
chart.setOption({
  animation: false,
  backgroundColor: '#fff',
  textStyle: { fontFamily: SANS },
  grid: grids,
  xAxis: xAxes,
  yAxis: yAxes,
  legend: legends,
  series: series,
});

// ---------- zoom annotation and panel labels ----------
const boxTL = chart.convertToPixel({ gridIndex: 3 }, [zoomWindow.t[0], zoomWindow.v[1]]);
const boxBR = chart.convertToPixel({ gridIndex: 3 }, [zoomWindow.t[1], zoomWindow.v[0]]);
const ins = grids[8];
const frame = { x: ins.left - 21, y: ins.top - 11, w: 214, h: 172 };
const RED = '#ff0000';
chart.setOption({
  graphic: [
    { type: 'rect', z: 100, shape: { x: boxTL[0], y: boxTL[1], width: boxBR[0] - boxTL[0], height: boxBR[1] - boxTL[1] },
      style: { fill: 'none', stroke: RED, lineWidth: 4 } },
    { type: 'line', z: 100, shape: { x1: boxTL[0], y1: boxTL[1], x2: frame.x, y2: frame.y },
      style: { stroke: RED, lineWidth: 4 } },
    { type: 'line', z: 100, shape: { x1: boxBR[0], y1: boxBR[1], x2: frame.x + frame.w, y2: frame.y + frame.h },
      style: { stroke: RED, lineWidth: 4 } },
    { type: 'rect', z: 100, shape: { x: frame.x, y: frame.y, width: frame.w, height: frame.h },
      style: { fill: 'none', stroke: RED, lineWidth: 5 } },
    { type: 'text', z: 100, x: 488, y: 714,
      style: { text: '(a)', fontFamily: SERIF, fontSize: 18, fill: '#000', align: 'center', verticalAlign: 'middle' } },
    { type: 'text', z: 100, x: 490, y: 914,
      style: { text: '(b)', fontFamily: SERIF, fontSize: 18, fill: '#000', align: 'center', verticalAlign: 'middle' } },
  ],
});
</script>
</body>
</html>
